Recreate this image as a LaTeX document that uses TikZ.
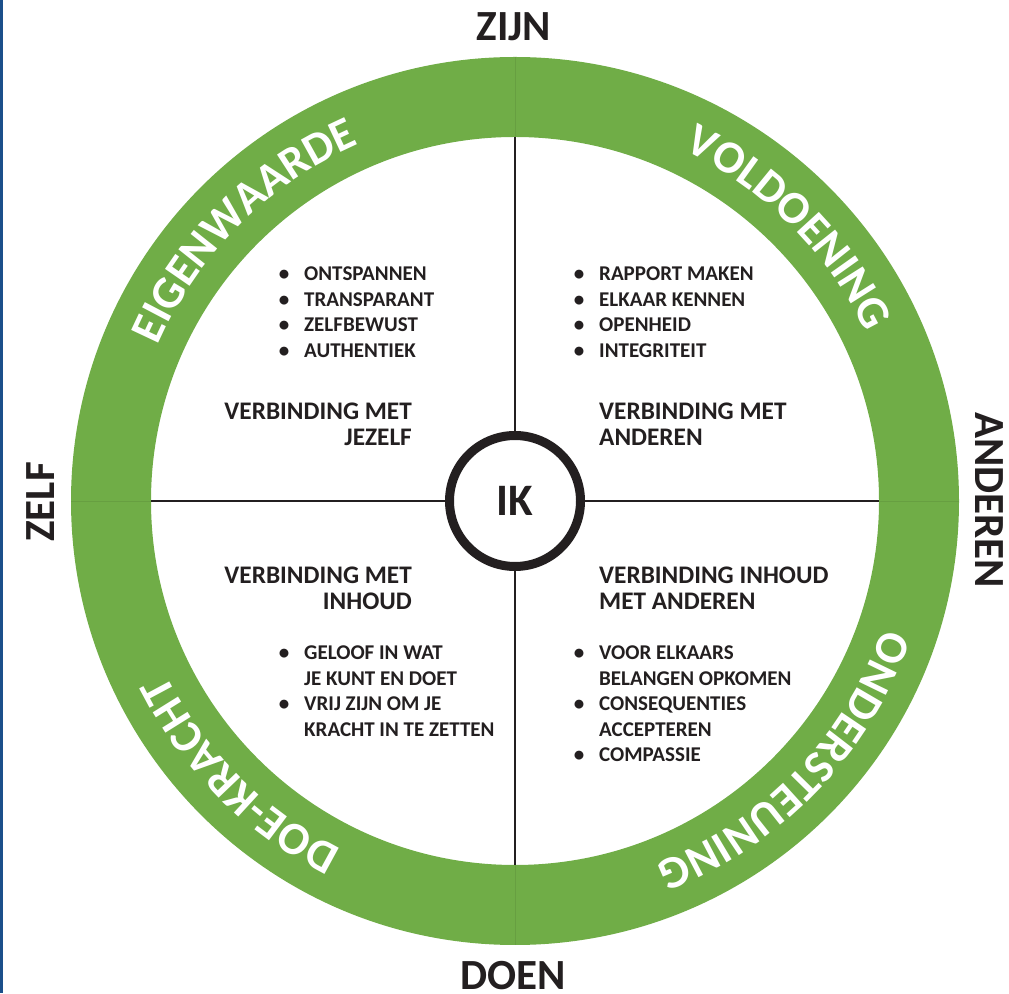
\documentclass[tikz,border=0pt]{standalone}
\usepackage{fontspec}
\setmainfont{Carlito}
\usetikzlibrary{decorations.text}

\definecolor{ringgreen}{HTML}{70AD47}
\definecolor{inkdark}{HTML}{231F20}
\definecolor{edgeblue}{HTML}{1B4F8A}

% font used for the words written along the green ring
\newcommand{\ringfont}{\fontsize{46}{50}\selectfont\bfseries}
% bullet sits on the line start, text begins 20pt further right
\newcommand{\listbullet}{\makebox[0pt]{•}\hspace{20pt}}
\newcommand{\listindent}{\hspace{20pt}}

\begin{document}
\begin{tikzpicture}[x=1pt,y=1pt,
  axislabel/.style={font=\fontsize{43}{46}\selectfont\bfseries, text=inkdark, inner sep=0pt},
  heading/.style={font=\fontsize{25.3}{26}\selectfont\bfseries, text=inkdark, inner sep=0pt},
  listtext/.style={font=\fontsize{21}{25.5}\selectfont\bfseries, text=inkdark, inner sep=0pt},
  crossline/.style={line width=1.6pt, draw=inkdark},
  seam/.style={line width=0.7pt, draw=ringgreen!92!black},
  ringtext/.style={decorate, decoration={text along path, text align=center, text color=white, text={|\ringfont|#1}}},
]
\useasboundingbox (0,0) rectangle (1009,993);

% thin edge strip
\fill[edgeblue] (0,0) rectangle (2.5,993);

\coordinate (c) at (515,492);

% green ring
\fill[ringgreen, even odd rule] (c) circle[radius=444] (c) circle[radius=364];
\foreach \a in {0,90,180,270}
  \draw[seam] (c) ++(\a:364) -- ++(\a:80);

% inner ends of the cross
\coordinate (in-n) at (515,856);
\coordinate (in-s) at (515,128);
\coordinate (in-w) at (151,492);
\coordinate (in-e) at (879,492);

% centre circle
\node[circle, draw=inkdark, line width=9pt, minimum size=131pt, inner sep=0pt, fill=white,
      font=\fontsize{45}{48}\selectfont\bfseries, text=inkdark] (ik) at (c) {IK};

\draw[crossline] (ik.north) -- (in-n);
\draw[crossline] (ik.south) -- (in-s);
\draw[crossline] (ik.west) -- (in-w);
\draw[crossline] (ik.east) -- (in-e);

% words along the ring
\path[ringtext=EIGENWAARDE] (c) ++(190:389.5) arc[start angle=190, end angle=80, radius=389.5];
\path[ringtext=VOLDOENING] (c) ++(100:389.5) arc[start angle=100, end angle=-10, radius=389.5];
\path[ringtext=ONDERSTEUNING] (c) ++(11:389.5) arc[start angle=11, end angle=-99, radius=389.5];
\path[ringtext=DOE-KRACHT] (c) ++(280:389.5) arc[start angle=280, end angle=170, radius=389.5];

% axis labels
\node[axislabel, anchor=base] (zijn) at (514,952.5) {ZIJN};
\node[axislabel, anchor=base] (doen) at (513,3.5) {DOEN};
\node[axislabel, anchor=base, rotate=90] (zelf) at (54,491) {ZELF};
\node[axislabel, anchor=base, rotate=-90] (anderen) at (975,493) {ANDEREN};

% quadrant headings
\node[heading, anchor=base east] (h-tl) at (412,573.4)
  {\begin{tabular}[t]{@{}r@{}}VERBINDING MET\\JEZELF\end{tabular}};
\node[heading, anchor=base west] (h-tr) at (599,573.4)
  {\begin{tabular}[t]{@{}l@{}}VERBINDING MET\\ANDEREN\end{tabular}};
\node[heading, anchor=base east] (h-bl) at (412,409.4)
  {\begin{tabular}[t]{@{}r@{}}VERBINDING MET\\INHOUD\end{tabular}};
\node[heading, anchor=base west] (h-br) at (599,409.4)
  {\begin{tabular}[t]{@{}l@{}}VERBINDING INHOUD\\MET ANDEREN\end{tabular}};

% quadrant lists
\node[listtext, anchor=base west] (l-tl) at (284,712.4)
  {\begin{tabular}[t]{@{}l@{}}\listbullet ONTSPANNEN\\\listbullet TRANSPARANT\\\listbullet ZELFBEWUST\\\listbullet AUTHENTIEK\end{tabular}};
\node[listtext, anchor=base west] (l-tr) at (579,712.4)
  {\begin{tabular}[t]{@{}l@{}}\listbullet RAPPORT MAKEN\\\listbullet ELKAAR KENNEN\\\listbullet OPENHEID\\\listbullet INTEGRITEIT\end{tabular}};
\node[listtext, anchor=base west] (l-bl) at (284,333.4)
  {\begin{tabular}[t]{@{}l@{}}\listbullet GELOOF IN WAT\\\listindent JE KUNT EN DOET\\\listbullet VRIJ ZIJN OM JE\\\listindent KRACHT IN TE ZETTEN\end{tabular}};
\node[listtext, anchor=base west] (l-br) at (579,333.4)
  {\begin{tabular}[t]{@{}l@{}}\listbullet VOOR ELKAARS\\\listindent BELANGEN OPKOMEN\\\listbullet CONSEQUENTIES\\\listindent ACCEPTEREN\\\listbullet COMPASSIE\end{tabular}};
\end{tikzpicture}
\end{document}
